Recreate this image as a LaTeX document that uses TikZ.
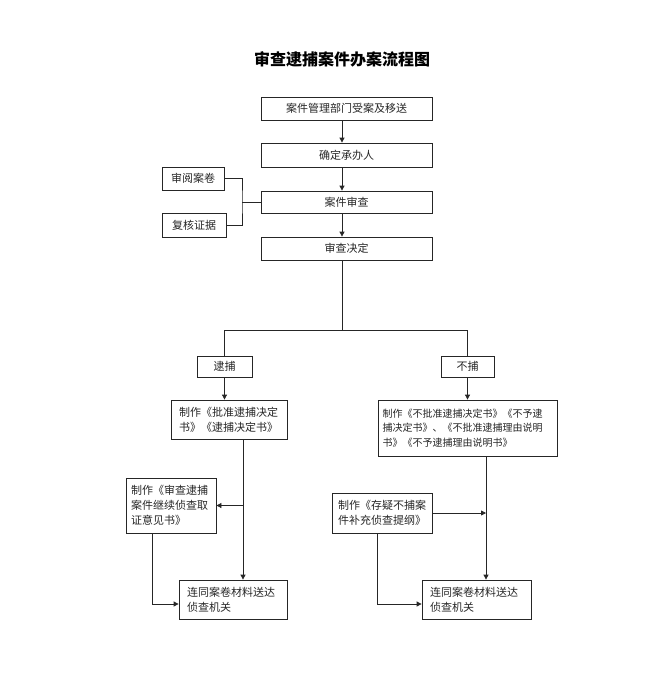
\documentclass[tikz,border=0pt]{standalone}
\usepackage{fontspec}
\setmainfont{Noto Sans CJK SC}
\newfontfamily\cjk{Noto Sans CJK SC}
\usetikzlibrary{arrows.meta}
\begin{document}
\begin{tikzpicture}[x=1pt,y=1pt,
  line width=0.7pt,
  box/.style={draw=black!85, line width=0.8pt, rectangle, inner sep=0pt, font=\cjk\fontsize{11}{15}\selectfont, text=black!85},
  lbox/.style={box, align=left, inner xsep=8pt},
  conn/.style={draw=black!85, line width=0.8pt},
  arr/.style={conn, -{Triangle[length=5pt,width=5pt]}}
]
\useasboundingbox (0,0) rectangle (656,-682);
\node[font=\cjk\bfseries\fontsize{16}{18}\selectfont] (title) at (342,-59) {审查逮捕案件办案流程图};

\node[box, minimum width=171, minimum height=23] (b1) at (346.5,-108.5) {案件管理部门受案及移送};
\node[box, minimum width=171, minimum height=24] (b2) at (346.5,-155) {确定承办人};
\node[box, minimum width=171, minimum height=22] (b3) at (346.5,-202) {案件审查};
\node[box, minimum width=171, minimum height=23] (b4) at (346.5,-248.5) {审查决定};
\node[box, minimum width=62, minimum height=23] (yj) at (193,-178.5) {审阅案卷};
\node[box, minimum width=64, minimum height=24] (fh) at (194,-225) {复核证据};

\node[box, minimum width=55, minimum height=21] (db) at (224.5,-366.5) {逮捕};
\node[box, minimum width=53, minimum height=21] (bb) at (467.5,-366.5) {不捕};

\node[lbox, minimum width=116, minimum height=39, text width=100] (pz) at (229,-419.5) {制作《批准逮捕决定\\书》《逮捕决定书》};
\node[lbox, minimum width=179, minimum height=56, text width=170, inner xsep=4.5pt, font=\cjk\fontsize{10}{14.5}\selectfont] (bpz) at (467.5,-428) {制作《不批准逮捕决定书》《不予逮\\捕决定书》、《不批准逮捕理由说明\\书》《不予逮捕理由说明书》};

\node[lbox, minimum width=90, minimum height=55, text width=80, inner xsep=5pt] (sc) at (171,-505.5) {制作《审查逮捕\\案件继续侦查取\\证意见书》};
\node[lbox, minimum width=108, minimum height=39, text width=92] (l1) at (233,-599.5) {连同案卷材料送达\\侦查机关};
\node[lbox, minimum width=100, minimum height=40, text width=88, inner xsep=6pt] (cy) at (382,-513) {制作《存疑不捕案\\件补充侦查提纲》};
\node[lbox, minimum width=109, minimum height=39, text width=93] (l2) at (476.5,-599.5) {连同案卷材料送达\\侦查机关};

% top chain (connectors run slightly left of the box centres)
\draw[arr] ([xshift=-4.5pt]b1.south) -- ([xshift=-4.5pt]b2.north);
\draw[arr] ([xshift=-4.5pt]b2.south) -- ([xshift=-4.5pt]b3.north);
\draw[arr] ([xshift=-4.5pt]b3.south) -- ([xshift=-4.5pt]b4.north);

% bracket
\coordinate (bx) at (242,-202);
\draw[conn] (yj.east) -| (bx) |- (fh.east);
\draw[conn] (bx) -- (b3.west);

% split
\coordinate (sp) at (342,-330);
\draw[conn] ([xshift=-4.5pt]b4.south) -- (sp);
\draw[conn] (sp) -| (db.north);
\draw[conn] (sp) -| (bb.north);

\draw[arr] (db.south) -- (db.south |- pz.north);
\draw[arr] (bb.south) -- (bpz.north);

% left lower
\coordinate (lx) at (243,-439);
\draw[arr] (lx) -- (lx |- l1.north);
\draw[arr] (lx |- sc.east) -- (sc.east);
\coordinate (sl) at (152,-533);
\coordinate (sl2) at (152,-604);
\draw[arr] (sl) -- (sl2) -- (sl2 -| l1.west);

% right lower
\coordinate (rx) at (486,-456);
\draw[arr] (rx) -- (rx |- l2.north);
\draw[arr] (cy.east) -- (cy.east -| rx);
\coordinate (sr) at (377,-533);
\coordinate (sr2) at (377,-604);
\draw[arr] (sr) -- (sr2) -- (sr2 -| l2.west);
\end{tikzpicture}
\end{document}
